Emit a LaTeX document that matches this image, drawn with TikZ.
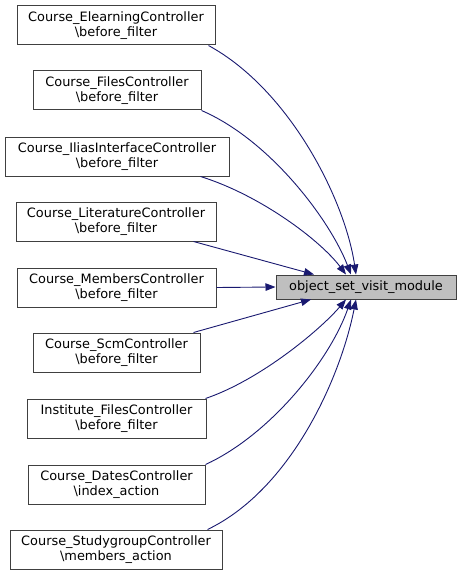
\documentclass[tikz,border=0pt]{standalone}
\usepackage{fontspec}
\setmainfont{DejaVu Sans}
\usetikzlibrary{arrows.meta}
\definecolor{edgecol}{HTML}{191970}
\definecolor{boxline}{HTML}{404040}
\definecolor{targetfill}{HTML}{BFBFBF}
\begin{document}
\begin{tikzpicture}[x=1pt,y=-1pt,
  fn/.style={draw=boxline,line width=1pt,fill=white,minimum height=39pt,inner sep=0pt,align=center,
    font=\fontsize{12.9}{14.3}\selectfont},
  tgt/.style={draw=boxline,line width=1pt,fill=targetfill,minimum height=24pt,minimum width=180pt,inner sep=0pt,
    font=\fontsize{12.9}{14.3}\selectfont},
  call/.style={draw=edgecol,line width=0.9pt,-{Triangle[length=10pt,width=7.5pt]}}]
\useasboundingbox (0,0) rectangle (461,575);
\node[tgt] (t) at (366,287) {object\_set\_visit\_module};
\node[fn,minimum width=198pt] (n1) at (116,25.5) {Course\_ElearningController\\\textbackslash before\_filter};
\node[fn,minimum width=168pt] (n2) at (117,90.5) {Course\_FilesController\\\textbackslash before\_filter};
\node[fn,minimum width=224pt] (n3) at (117,156.5) {Course\_IliasInterfaceController\\\textbackslash before\_filter};
\node[fn,minimum width=200pt] (n4) at (116,221.5) {Course\_LiteratureController\\\textbackslash before\_filter};
\node[fn,minimum width=199pt] (n5) at (116.5,287.5) {Course\_MembersController\\\textbackslash before\_filter};
\node[fn,minimum width=167pt] (n6) at (116.5,352.5) {Course\_ScmController\\\textbackslash before\_filter};
\node[fn,minimum width=179pt] (n7) at (116.5,418.5) {Institute\_FilesController\\\textbackslash before\_filter};
\node[fn,minimum width=177pt] (n8) at (116.5,484.5) {Course\_DatesController\\\textbackslash index\_action};
\node[fn,minimum width=212pt] (n9) at (116,549.5) {Course\_StudygroupController\\\textbackslash members\_action};
\draw[call] ([xshift=-7pt]n1.south east) .. controls (290,90) and (345,200) .. ([xshift=-10pt]t.north);
\draw[call] (n2.south east) .. controls (270,140) and (330,220) .. ([xshift=-15pt]t.north);
\draw[call] ([xshift=-29pt]n3.south east) .. controls (260,195) and (320,240) .. ([xshift=-20pt]t.north);
\draw[call] ([xshift=-23pt]n4.south east) -- ([xshift=-52pt]t.north);
\draw[call] (n5.east) -- (t.west);
\draw[call] ([xshift=-7pt]n6.north east) -- ([xshift=-55pt]t.south);
\draw[call] ([xshift=-1pt]n7.north east) .. controls (260,380) and (320,330) .. ([xshift=-20pt]t.south);
\draw[call] (n8.north east) .. controls (270,435) and (330,360) .. ([xshift=-15pt]t.south);
\draw[call] ([xshift=-15pt]n9.north east) .. controls (290,490) and (340,380) .. ([xshift=-10pt]t.south);
\end{tikzpicture}
\end{document}
